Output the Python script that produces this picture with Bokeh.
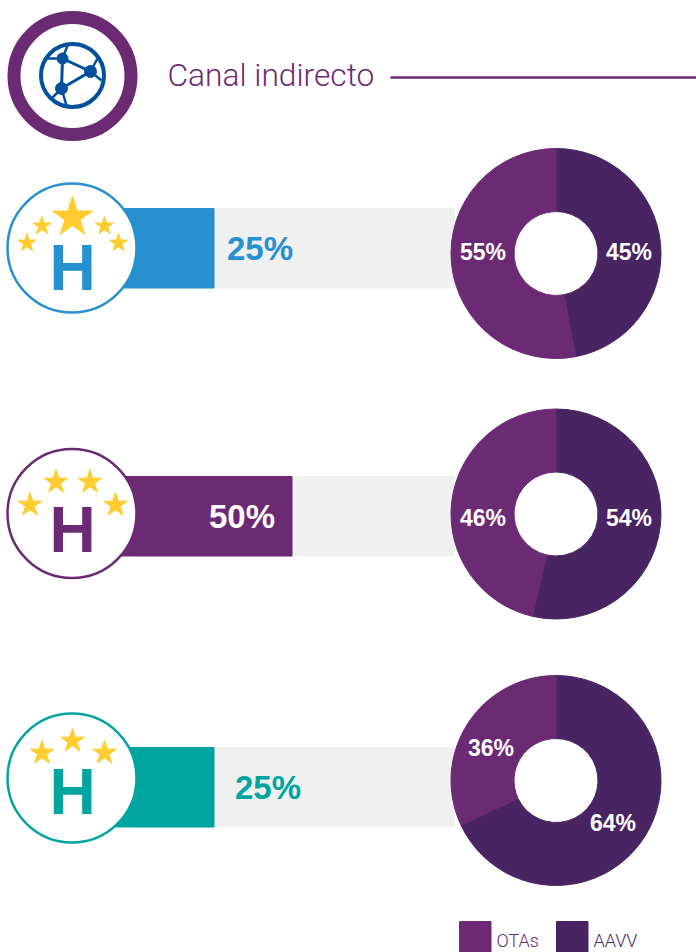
from bokeh.plotting import figure
from bokeh.embed import file_html
from bokeh.resources import INLINE
from bokeh.core.properties import value
from bokeh.models import Range1d
import math

W, H = 696, 952
share_values = [25, 50, 25]
share_labels = ["25%", "50%", "25%"]
share_colors = ["#2690d0", "#6c2a75", "#00a4a0"]
aavv_drawn = [47.0, 53.6, 68.0]
aavv_labels = ["45%", "54%", "64%"]
otas_labels = ["55%", "46%", "36%"]
legend_names = ["OTAs", "AAVV"]
title = "Canal indirecto"

PURPLE, DARK = "#6c2a75", "#482463"
YEL, NET = "#ffcd30", "#00509b"
BOLD = value("Liberation Sans")

p = figure(width=W, height=H, x_range=Range1d(0, W), y_range=Range1d(0, H),
           toolbar_location=None, output_backend="svg", min_border=0,
           margin=(0, 0, 0, 0), outline_line_color=None)
p.axis.visible = False
p.grid.visible = False
Y = lambda v: H - v

# header
p.circle([72], [Y(75.5)], radius=58.5, fill_color=None, line_color=PURPLE, line_width=13)
p.circle([72], [Y(75)], radius=31.5, fill_color=None, line_color=NET, line_width=4)
nodes = [(62, 58, 5.5), (90, 71, 6), (61, 88, 6)]
for a, b in [(0, 1), (1, 2), (2, 0)]:
    p.line([nodes[a][0], nodes[b][0]], [Y(nodes[a][1]), Y(nodes[b][1])], line_color=NET, line_width=3)
for i, (ex, ey) in [(0, (46, 58)), (0, (67, 45)), (1, (101, 80)), (1, (97, 58)), (2, (50, 99)), (2, (66, 105))]:
    p.line([nodes[i][0], ex], [Y(nodes[i][1]), Y(ey)], line_color=NET, line_width=2.5)
p.circle([n[0] for n in nodes], [Y(n[1]) for n in nodes], radius=[n[2] for n in nodes], color=NET)
p.text([167], [Y(75)], text=[title], text_font=value("Roboto Light"), text_font_size="31.7px",
       text_color=PURPLE, text_baseline="middle")
p.line([390, 696], [Y(77), Y(77)], line_color=PURPLE, line_width=2.5)

# rows
cy_icon = [247.5, 513, 777.5]
bar_top = [208, 476, 747]
donut_cy = [253, 513.5, 780]
h_mid = [267, 529.5, 791.5]
stars = [
    [(72, 217, 42), (41.5, 225.5, 19), (104, 225.5, 19), (26.5, 242.5, 19), (118, 242.5, 19)],
    [(55.5, 481.5, 25), (89.5, 481.5, 25), (29.5, 504.5, 25), (115, 504.5, 25)],
    [(41.5, 752.5, 25), (72, 740.5, 25), (104, 752.5, 25)],
]
label_x = [259.5, 241.5, 267.5]
label_col = [share_colors[0], "#ffffff", share_colors[2]]
X0, PER = 135.5, 3.12

for i in range(3):
    t, b = Y(bar_top[i]), Y(bar_top[i] + 79.5)
    p.quad(left=[X0], right=[X0 + 102 * PER], top=[t], bottom=[b], color="#f0f0f0")
    p.quad(left=[100], right=[X0 + share_values[i] * PER], top=[t], bottom=[b], color=share_colors[i])
    p.circle([71.5], [Y(cy_icon[i])], radius=64.5, fill_color="#ffffff", line_color=share_colors[i], line_width=2.5)
    p.text([72], [Y(h_mid[i])], text=["H"], text_font=BOLD, text_font_style="bold", text_font_size="64px",
           text_color=share_colors[i], text_align="center", text_baseline="middle")
    sx = [s[0] for s in stars[i]]
    sy = [Y(s[1]) for s in stars[i]]
    ss = [s[2] for s in stars[i]]
    p.scatter(sx, sy, marker="star", size=ss, color=YEL)
    p.text([label_x[i]], [Y(bar_top[i] + 40)], text=[share_labels[i]], text_font=BOLD, text_font_style="bold",
           text_font_size="33px", text_color=label_col[i], text_align="center", text_baseline="middle")
    # donut, clockwise from the top: AAVV first
    cy = Y(donut_cy[i])
    split = math.pi / 2 - aavv_drawn[i] / 100 * 2 * math.pi
    p.annular_wedge([555.5], [cy], inner_radius=42, outer_radius=105, start_angle=split,
                    end_angle=math.pi / 2, color=DARK)
    p.annular_wedge([555.5], [cy], inner_radius=42, outer_radius=105, start_angle=math.pi / 2,
                    end_angle=split, color=PURPLE)

pos_a = [(628.5, 251), (628.5, 517), (612.5, 822)]
pos_o = [(482.5, 251), (482.5, 517), (490.5, 747)]
for (x, y), s in zip(pos_a + pos_o, aavv_labels + otas_labels):
    p.text([x], [Y(y)], text=[s], text_font=BOLD, text_font_style="bold", text_font_size="23px",
           text_color="#ffffff", text_align="center", text_baseline="middle")

# legend
for x0, col, name in zip([459, 556], [PURPLE, DARK], legend_names):
    p.quad(left=[x0], right=[x0 + 31.5], top=[Y(921)], bottom=[Y(952)], color=col)
    p.text([x0 + 37], [Y(940)], text=[name], text_font=value("Roboto Light"), text_font_size="18px",
           text_color=PURPLE if name == "OTAs" else DARK, text_baseline="middle")

open("out.html", "w").write(file_html(p, INLINE))
